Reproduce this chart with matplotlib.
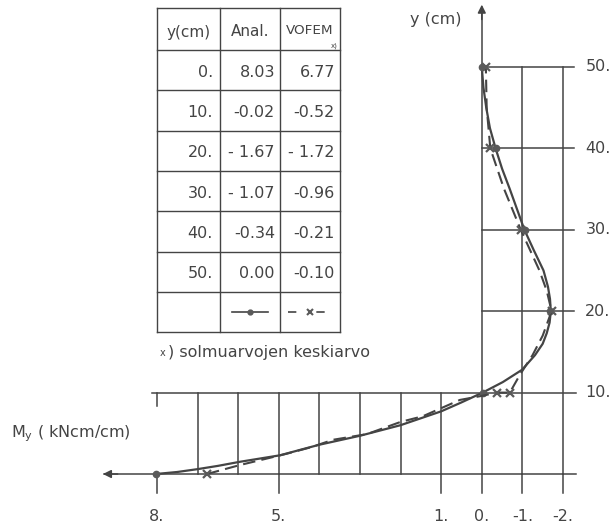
import matplotlib
matplotlib.use("Agg")
import matplotlib.pyplot as plt

# taulukon arvot
y_tab = [0, 10, 20, 30, 40, 50]
anal_tab = [8.03, -0.02, -1.67, -1.07, -0.34, 0.00]
vofem_tab = [6.77, -0.52, -1.72, -0.96, -0.21, -0.10]
anal_txt = ["8.03", "-0.02", "- 1.67", "- 1.07", "-0.34", "0.00"]
vofem_txt = ["6.77", "-0.52", "- 1.72", "-0.96", "-0.21", "-0.10"]

# analyyttinen käyrä (luettu kuvasta)
y_an = [0, 0.25, 0.6, 1.0, 1.5, 2.3, 3.0, 3.6, 4.7, 6.0, 7.7, 8.8, 10, 11.3, 12.8, 14.6, 16, 17.3,
        18.6, 20, 21.5, 23, 25, 27.5, 30, 32.5, 35, 37.5, 40, 42.5, 45, 47.5, 50]
x_an = [8.03, 7.5, 7.0, 6.5, 5.96, 4.97, 4.45, 4.0, 3.0, 2.0, 1.0, 0.5, -0.02, -0.52, -0.99, -1.31,
        -1.5, -1.6, -1.67, -1.7, -1.68, -1.63, -1.52, -1.28, -1.05, -0.87, -0.69, -0.5, -0.34, -0.2,
        -0.11, -0.04, 0.00]

# VOFEM käyrä (luettu kuvasta)
y_fe = [0, 1.1, 1.7, 2.5, 3.3, 4.2, 4.9, 6.4, 7.1, 9.1, 9.6, 10, 10, 12.2, 14.6, 17, 20, 22.5, 25, 30,
        35, 40, 45, 50]
x_fe = [6.77, 5.96, 5.46, 4.8, 4.2, 3.67, 2.83, 2.0, 1.45, 0.54, 0.0, -0.37, -0.69, -0.94, -1.25, -1.5,
        -1.72, -1.6, -1.42, -0.96, -0.55, -0.21, -0.12, -0.10]
# solmuarvot y=10
y_nodes = [10, 10]
x_nodes = [-0.37, -0.69]

x_ticks = [8, 5, 1, 0, -1, -2]
x_ticklabels = ["8.", "5.", "1.", "0.", "-1.", "-2."]
y_ticks = [10, 20, 30, 40, 50]
y_ticklabels = ["10.", "20.", "30.", "40.", "50."]

ink = "#444444"
mk = "#5a5a5a"
plt.rcParams['font.family'] = ['DejaVu Sans']
fs = 11.5

fig = plt.figure(figsize=(6.15, 5.31), dpi=100)
ax = fig.add_axes([0, 0, 1, 1])
ax.set_xlim(11.867, -3.281)
ax.set_ylim(-7.0, 58.23)
ax.axis("off")

lw = 1.1
# ruudukko
for yy in [20, 30, 40, 50]:
    ax.plot([0, -2.28], [yy, yy], color=ink, lw=lw)
ax.plot([8.12, -2.33], [10, 10], color=ink, lw=lw)
ax.plot([9.3, -2.33], [0, 0], color=ink, lw=lw)
for xx in [7, 6, 5, 4, 3, 2, 1]:
    ax.plot([xx, xx], [0, 10], color=ink, lw=lw)
for xx in [-1, -2]:
    ax.plot([xx, xx], [0, 50], color=ink, lw=lw)
ax.plot([0, 0], [0, 57.0], color=ink, lw=lw)
ax.plot([8, 8], [10, 8.3], color=ink, lw=lw)
for xx in x_ticks:
    ax.plot([xx, xx], [0, -2.3], color=ink, lw=lw)
# nuolet
ax.annotate("", xy=(0, 58.0), xytext=(0, 55.5),
            arrowprops=dict(arrowstyle="-|>", color=ink, lw=lw, mutation_scale=12))
ax.annotate("", xy=(9.4, 0), xytext=(8.9, 0),
            arrowprops=dict(arrowstyle="-|>", color=ink, lw=lw, mutation_scale=12))

# käyrät
ax.plot(x_an, y_an, color=ink, lw=1.6, solid_joinstyle="round")
ax.plot(anal_tab, y_tab, "o", color=mk, ms=4.5, lw=0)
ax.plot(x_fe, y_fe, color=ink, lw=1.5, dashes=(6, 3))
ax.plot([vofem_tab[0]] + x_nodes + vofem_tab[2:], [y_tab[0]] + y_nodes + y_tab[2:], "x",
        color=mk, ms=5.5, mew=1.6, lw=0)

# akselitekstit
for xx, lab in zip(x_ticks, x_ticklabels):
    ax.text(xx, -5.2, lab, ha="center", va="center", fontsize=fs, color=ink)
for yy, lab in zip(y_ticks, y_ticklabels):
    ax.text(-2.55, yy, lab, ha="left", va="center", fontsize=fs, color=ink)
ax.text(0.5, 55.8, "y (cm)", ha="right", va="center", fontsize=fs, color=ink)
ax.text(11.6, 4.9, r"M$_\mathregular{y}$ ( kNcm/cm)", ha="left", va="center", fontsize=fs, color=ink)

# taulukko pikselikoordinaatein
ov = fig.add_axes([0, 0, 1, 1])
ov.set_xlim(0, 615)
ov.set_ylim(531, 0)
ov.axis("off")
ov.patch.set_alpha(0)

cols = [157, 220, 280, 340]
rows = [8, 50] + [50 + 40.3 * (i + 1) for i in range(7)]
for r in rows:
    ov.plot([cols[0], cols[-1]], [r, r], color=ink, lw=1.0)
for c in cols:
    ov.plot([c, c], [rows[0], rows[-1]], color=ink, lw=1.0)

ov.text((cols[0] + cols[1]) / 2, 32, "y(cm)", ha="center", va="center", fontsize=fs - 0.5, color=ink)
ov.text((cols[1] + cols[2]) / 2, 32, "Anal.", ha="center", va="center", fontsize=fs - 0.5, color=ink)
ov.text((cols[2] + cols[3]) / 2, 31, "VOFEM", ha="center", va="center", fontsize=fs - 1.8, color=ink)
ov.text(cols[3] - 2, 46, "x)", ha="right", va="center", fontsize=5, color=ink)

for i, yv in enumerate(y_tab):
    yc = (rows[i + 1] + rows[i + 2]) / 2 + 2
    ov.text(cols[1] - 7, yc, f"{yv}.", ha="right", va="center", fontsize=fs, color=ink)
    ov.text(cols[2] - 5, yc, anal_txt[i], ha="right", va="center", fontsize=fs, color=ink)
    ov.text(cols[3] - 5, yc, vofem_txt[i], ha="right", va="center", fontsize=fs, color=ink)

yl = (rows[7] + rows[8]) / 2
ov.plot([cols[1] + 12, cols[2] - 12], [yl, yl], color=ink, lw=1.2)
ov.plot([(cols[1] + cols[2]) / 2], [yl], "o", color=mk, ms=3.5)
ov.plot([cols[2] + 8, cols[3] - 8], [yl, yl], color=ink, lw=1.2, dashes=(5, 12))
ov.plot([(cols[2] + cols[3]) / 2], [yl], "x", color=mk, ms=5, mew=1.5)

ov.text(160, 353, "x", ha="left", va="center", fontsize=7, color=ink)
ov.text(168, 352, ") solmuarvojen keskiarvo", ha="left", va="center", fontsize=fs, color=ink)

fig.savefig("out.png", dpi=100)
